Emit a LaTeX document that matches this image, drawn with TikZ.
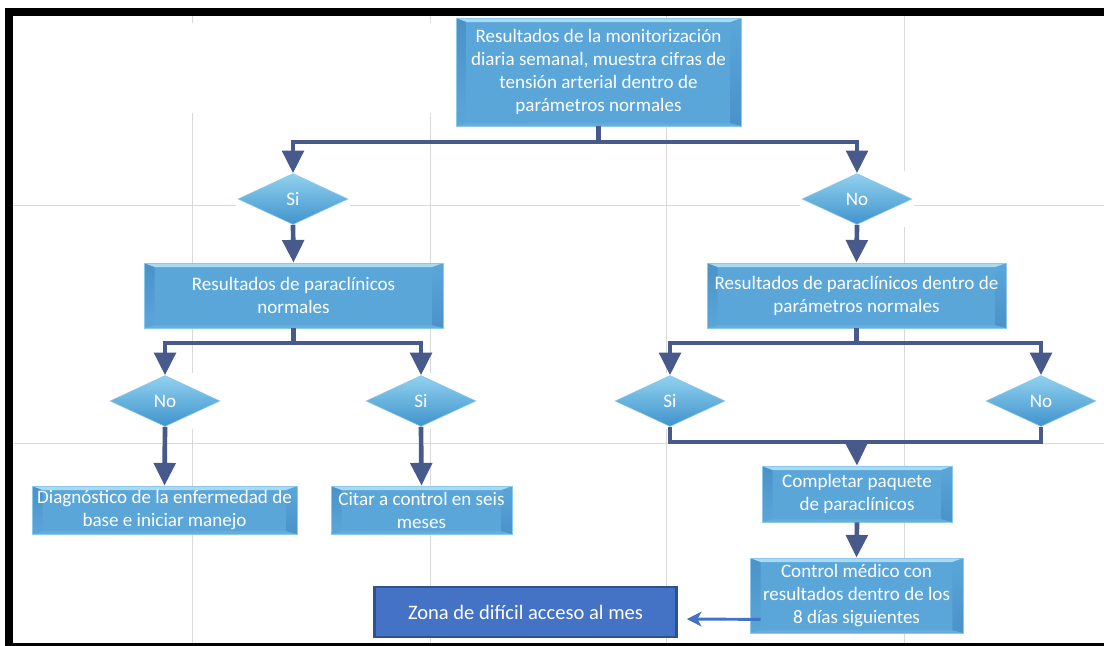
\documentclass[tikz,border=0pt]{standalone}
\usepackage{fontspec}
\setmainfont{Carlito}
\usetikzlibrary{arrows.meta,shapes.geometric,backgrounds}
\definecolor{connc}{HTML}{475A8B}
\definecolor{boxmain}{HTML}{5AA6D9}
\definecolor{boxtop}{HTML}{A8DBF2}
\definecolor{boxside}{HTML}{4A92C9}
\definecolor{boxbot}{HTML}{67AEDD}
\definecolor{boxedge}{HTML}{8CC8EA}
\definecolor{diatop}{HTML}{92D1EF}
\definecolor{diamid}{HTML}{62AEDF}
\definecolor{diabot}{HTML}{3F93CD}
\definecolor{gridc}{HTML}{D9D9D9}
\definecolor{zonafill}{HTML}{4472C4}
\definecolor{zonaedge}{HTML}{2F528F}
\newcommand\boxfont{\fontsize{14.3pt}{17.25pt}\selectfont}
\newcommand\zonafont{\fontsize{15.4pt}{18pt}\selectfont}
\tikzset{
  bevelbox/.style={rectangle, inner sep=0pt, align=center, text=white, font=\boxfont,
    fill=boxmain, draw=boxedge, line width=0.6pt,
    path picture={
      \coordinate (pNW) at (path picture bounding box.north west);
      \coordinate (pNE) at (path picture bounding box.north east);
      \coordinate (pSW) at (path picture bounding box.south west);
      \coordinate (pSE) at (path picture bounding box.south east);
      \shade[top color=boxside, bottom color=boxmain] (pNW) -- ([shift={(8pt,-3pt)}]pNW) -- ([shift={(8pt,2pt)}]pSW) -- (pSW) -- cycle;
      \shade[top color=boxmain, bottom color=boxside] (pNE) -- ([shift={(-8pt,-3pt)}]pNE) -- ([shift={(-8pt,2pt)}]pSE) -- (pSE) -- cycle;
      \fill[boxbot] (pSW) -- ([shift={(8pt,2pt)}]pSW) -- ([shift={(-8pt,2pt)}]pSE) -- (pSE) -- cycle;
      \fill[boxtop] (pNW) -- (pNE) -- ([shift={(-8pt,-3pt)}]pNE) -- ([shift={(8pt,-3pt)}]pNW) -- cycle;
    }},
  dia/.style={diamond, aspect=2.16, inner sep=0pt, minimum width=82.5pt, minimum height=38.25pt,
    top color=diatop, middle color=diamid, bottom color=diabot, draw=boxedge, line width=0.4pt,
    text=white, font=\boxfont},
  connl/.style={draw=connc, line width=3.5pt},
  conna/.style={connl, -{Triangle[width=16pt,length=17pt]}},
  zonabox/.style={rectangle, inner sep=0pt, fill=zonafill, draw=zonaedge, line width=1.9pt,
    text=white, font=\zonafont, minimum width=226.5pt, minimum height=37.5pt},
  bluearrow/.style={draw=zonafill, line width=2.2pt, -{Stealth[width=11pt,length=11pt,inset=3pt]}},
  gridline/.style={draw=gridc, line width=0.75pt}
}
\begin{document}
\begin{tikzpicture}[x=0.75pt,y=-0.75pt]
\useasboundingbox (0,0) rectangle (1104,646);

% nodes
\node[bevelbox, minimum width=213.75pt, minimum height=81pt] (top) at (598.5,72)
  {Resultados de la monitorización\\diaria semanal, muestra cifras de\\tensión arterial dentro de\\parámetros normales};
\node[dia] (siA) at (293,199) {Si};
\node[dia] (noA) at (857,199) {No};
\node[bevelbox, minimum width=224.25pt, minimum height=48.75pt] (resL) at (293.5,295.5)
  {Resultados de paraclínicos\\normales};
\node[bevelbox, minimum width=224.25pt, minimum height=48.75pt] (resR) at (856.5,295.5)
  {Resultados de paraclínicos dentro de\\parámetros normales};
\node[dia] (noB) at (165,401) {No};
\node[dia] (siB) at (421,401) {Si};
\node[dia] (siC) at (670,401) {Si};
\node[dia] (noD) at (1041,401) {No};
\node[bevelbox, minimum width=198.75pt, minimum height=36pt] (diag) at (164.5,510)
  {Diagnóstico de la enfermedad de\\base e iniciar manejo};
\node[bevelbox, minimum width=135.75pt, minimum height=36pt] (citar) at (421.5,510)
  {Citar a control en seis\\meses};
\node[bevelbox, minimum width=142.5pt, minimum height=42pt] (comp) at (857,494)
  {Completar paquete\\de paraclínicos};
\node[bevelbox, minimum width=159.75pt, minimum height=56.25pt] (ctrl) at (856.5,595.5)
  {Control médico con\\resultados dentro de los\\8 días siguientes};
\node[zonabox] (zona) at (525.5,612) {Zona de difícil acceso al mes};

% background grid
\begin{scope}[on background layer]
  \fill[white] (0,0) rectangle (1104,646);
  \foreach \gx in {192,430,666,904} \draw[gridline] (\gx,16) -- (\gx,643);
  \foreach \gy in {205,443} \draw[gridline] (13,\gy) -- (1104,\gy);
  \fill[white] (150,23) rectangle (450,113);
  \foreach \d in {siA,noA,noB,siB,siC,noD}
    \fill[white] ([shift={(-2,-2)}]\d.west |- \d.north) rectangle ([shift={(2,2)}]\d.east |- \d.south);
\end{scope}

% connectors
\coordinate (b1) at (598.5,142);
\draw[connl] (top.south) -- (b1);
\draw[conna] (b1) -| (siA.north);
\draw[conna] (b1) -| (noA.north);
\draw[conna] (siA.south) -- (resL.north);
\draw[conna] (noA.south) -- (resR.north);

\coordinate (b2) at (293.5,343);
\draw[connl] (resL.south) -- (b2);
\draw[conna] (b2) -| (noB.north);
\draw[conna] (b2) -| (siB.north);
\draw[conna] (noB.south) -- (diag.north);
\draw[conna] (siB.south) -- (citar.north);

\coordinate (b3) at (856.5,343);
\draw[connl] (resR.south) -- (b3);
\draw[conna] (b3) -| (siC.north);
\draw[conna] (b3) -| (noD.north);
\coordinate (j) at (856.5,442);
\draw[connl] (siC.south) |- (j);
\draw[connl] (noD.south) |- (j);
\draw[conna] (j) -- (comp.north);
\draw[conna] (comp.south) -- (ctrl.north);

\draw[bluearrow] ([shift={(11,-14)}]ctrl.south west) -- ([shift={(9,7)}]zona.east);

% frame
\fill[black] (5,8) rectangle (13,646);
\fill[black] (5,8) rectangle (1104,16);
\fill[black] (5,643) rectangle (1104,646);
\end{tikzpicture}
\end{document}
